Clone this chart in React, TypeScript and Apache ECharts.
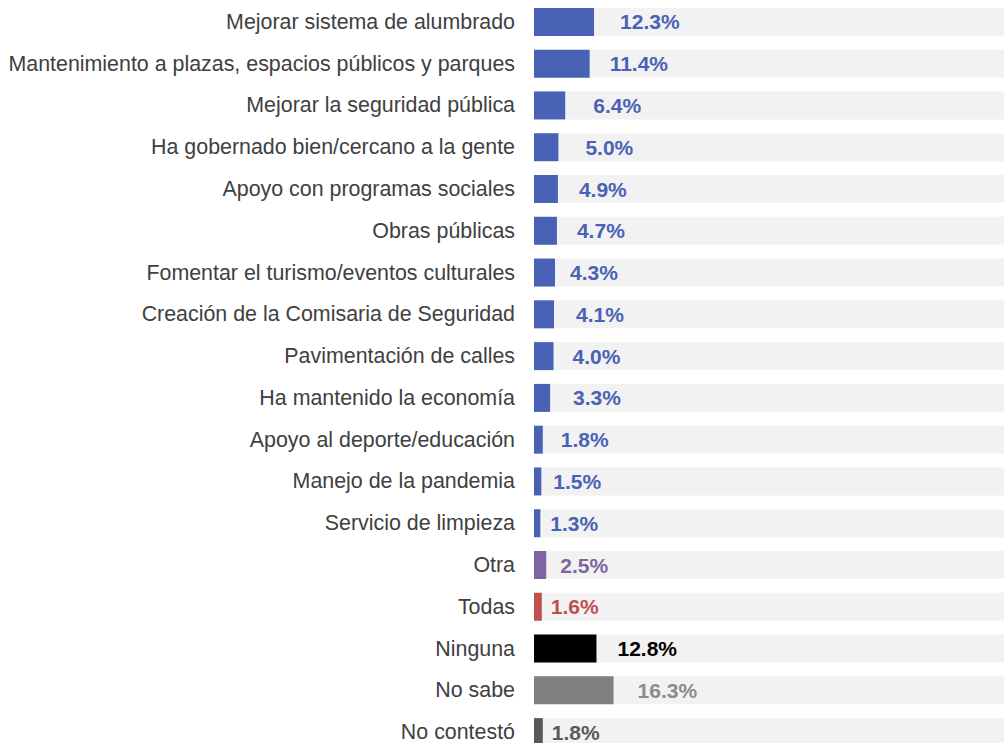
import React, { useEffect, useRef } from "react";
import * as echarts from "echarts";

const categories = [
  "Mejorar sistema de alumbrado",
  "Mantenimiento a plazas, espacios públicos y parques",
  "Mejorar la seguridad pública",
  "Ha gobernado bien/cercano a la gente",
  "Apoyo con programas sociales",
  "Obras públicas",
  "Fomentar el turismo/eventos culturales",
  "Creación de la Comisaria de Seguridad",
  "Pavimentación de calles",
  "Ha mantenido la economía",
  "Apoyo al deporte/educación",
  "Manejo de la pandemia",
  "Servicio de limpieza",
  "Otra",
  "Todas",
  "Ninguna",
  "No sabe",
  "No contestó",
];

const values = [12.3, 11.4, 6.4, 5.0, 4.9, 4.7, 4.3, 4.1, 4.0, 3.3, 1.8, 1.5, 1.3, 2.5, 1.6, 12.8, 16.3, 1.8];

// styling (not data)
const BLUE = "#4a62b5";
const barColors = [
  BLUE, BLUE, BLUE, BLUE, BLUE, BLUE, BLUE, BLUE, BLUE, BLUE, BLUE, BLUE, BLUE,
  "#8064a2", "#c0504d", "#000000", "#808080", "#595959",
];
const labelColors = [
  BLUE, BLUE, BLUE, BLUE, BLUE, BLUE, BLUE, BLUE, BLUE, BLUE, BLUE, BLUE, BLUE,
  "#8064a2", "#c0504d", "#000000", "#8c8c8c", "#595959",
];
const labelGaps = [26, 20, 28, 27, 21, 20, 15, 22, 19, 23, 18, 12, 10, 14, 9, 21, 24, 9];

export default function App() {
  const ref = useRef<HTMLDivElement>(null);
  useEffect(() => {
    if (!ref.current) return;
    const chart = echarts.init(ref.current, undefined, { renderer: "svg" });
    chart.setOption({
      animation: false,
      backgroundColor: "#ffffff",
      grid: { left: 534, top: 1, width: 488, height: 752, containLabel: false },
      xAxis: {
        type: "value",
        min: 0,
        max: 100,
        show: false,
      },
      yAxis: {
        type: "category",
        data: categories,
        inverse: true,
        axisLine: { show: false },
        axisTick: { show: false },
        axisLabel: {
          margin: 19,
          fontFamily: "Liberation Sans, Arial, sans-serif",
          fontSize: 21.4,
          color: "#404040",
        },
      },
      series: [
        {
          type: "bar",
          barWidth: 28,
          showBackground: true,
          backgroundStyle: { color: "#f2f2f2" },
          data: values.map((v, i) => ({
            value: v,
            itemStyle: { color: barColors[i] },
            label: { color: labelColors[i], distance: labelGaps[i] },
          })),
          label: {
            show: true,
            position: "right",
            fontFamily: "Liberation Sans, Arial, sans-serif",
            fontSize: 21,
            fontWeight: "bold",
            formatter: (p: any) => p.value.toFixed(1) + "%",
          },
        },
      ],
    });
    return () => chart.dispose();
  }, []);
  return (
    <div
      ref={ref}
      style={{ position: "fixed", left: 0, top: 0, width: 1030, height: 760 }}
    />
  );
}
